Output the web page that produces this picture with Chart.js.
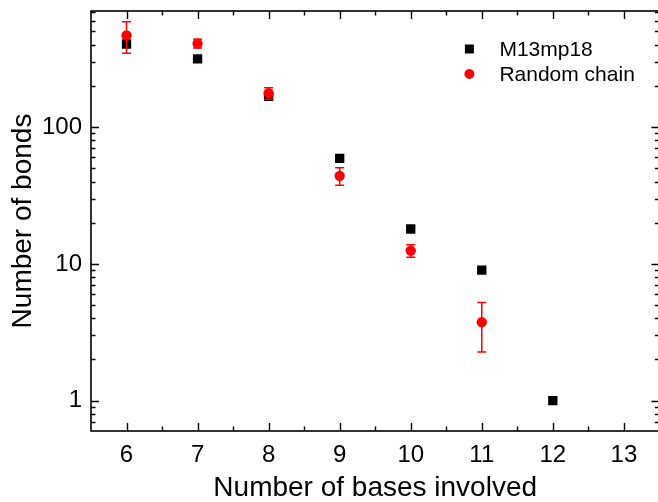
<!DOCTYPE html>
<html>
<head>
<meta charset="utf-8">
<script src="https://cdn.jsdelivr.net/npm/chart.js@4/dist/chart.umd.min.js"></script>
<style>
  html, body { margin: 0; padding: 0; background: #fff; overflow: hidden; }
  #wrap { width: 658px; height: 502px; overflow: hidden; }
</style>
</head>
<body>
<!-- the canvas runs a few pixels past the right edge so the plot frame's right side sits at the window edge -->
<div id="wrap"><canvas id="c" width="666" height="502"></canvas></div>
<script>
// Number of bases taking part in a bond
const bases = [6, 7, 8, 9, 10, 11, 12];
// Bond counts for the M13mp18 sequence
const m13Bonds = [405, 315, 168, 59, 18, 9, 1];
// Bond counts for a random chain (mean) and their error
const randomBases = [6, 7, 8, 9, 10, 11];
const randomBonds = [468, 408, 177, 44, 12.5, 3.75];
const randomErr = [122, 30, 17, 6.5, 1.3, 1.48];
// Axis ticks
const xTicks = [6, 7, 8, 9, 10, 11, 12, 13];
const yTicks = [1, 10, 100];

const FONT = '"Liberation Sans", Arial, sans-serif';

const m13Points = bases.map((x, i) => ({ x, y: m13Bonds[i] }));
const randomPoints = randomBases.map((x, i) => ({ x, y: randomBonds[i] }));

// Box frame with inward major/minor ticks on all four sides
const framePlugin = {
  id: 'frame',
  afterDraw(chart) {
    const { ctx, chartArea: a, scales: { x, y } } = chart;
    ctx.save();
    ctx.strokeStyle = '#000';
    ctx.lineWidth = 1.6;
    ctx.strokeRect(a.left, a.top, a.right - a.left, a.bottom - a.top);
    ctx.lineWidth = 1.4;
    ctx.beginPath();
    const xMaj = 8, xMin = 4.5;
    for (let v = x.min; v <= x.max + 1e-9; v += 0.5) {
      const px = Math.round(x.getPixelForValue(v)) + 0.5;
      if (px <= a.left + 1 || px >= a.right - 1) continue;
      const len = Number.isInteger(v) ? xMaj : xMin;
      ctx.moveTo(px, a.bottom); ctx.lineTo(px, a.bottom - len);
      ctx.moveTo(px, a.top); ctx.lineTo(px, a.top + len);
    }
    for (let d = -1; d <= 3; d++) {
      for (let m = 1; m <= 9; m++) {
        const v = m * Math.pow(10, d);
        if (v < y.min || v > y.max) continue;
        const py = Math.round(y.getPixelForValue(v)) + 0.5;
        if (py <= a.top + 1 || py >= a.bottom - 1) continue;
        const len = m === 1 ? 8 : 4.5;
        ctx.moveTo(a.left, py); ctx.lineTo(a.left + len, py);
        ctx.moveTo(a.right, py); ctx.lineTo(a.right - len, py);
      }
    }
    ctx.stroke();
    ctx.restore();
  }
};

// Vertical error bars with caps for the random-chain series
const errorBarPlugin = {
  id: 'errorBars',
  afterDatasetsDraw(chart) {
    const { ctx, scales: { x, y } } = chart;
    ctx.save();
    ctx.strokeStyle = '#ff0000';
    ctx.lineWidth = 1.5;
    ctx.beginPath();
    randomBases.forEach((b, i) => {
      const px = x.getPixelForValue(b);
      const top = y.getPixelForValue(randomBonds[i] + randomErr[i]);
      const bot = y.getPixelForValue(randomBonds[i] - randomErr[i]);
      const cap = 4.5;
      ctx.moveTo(px, top); ctx.lineTo(px, bot);
      ctx.moveTo(px - cap, top); ctx.lineTo(px + cap, top);
      ctx.moveTo(px - cap, bot); ctx.lineTo(px + cap, bot);
    });
    ctx.stroke();
    ctx.restore();
  }
};

// Legend inside the plot, upper right
const legendPlugin = {
  id: 'insideLegend',
  afterDraw(chart) {
    const { ctx, chartArea: a } = chart;
    const sx = a.right - 190, tx = a.right - 160;
    const rows = [
      { label: 'M13mp18', y: a.top + 38, shape: 'rect', color: '#000' },
      { label: 'Random chain', y: a.top + 63, shape: 'circle', color: '#ff0000' }
    ];
    ctx.save();
    rows.forEach(r => {
      ctx.fillStyle = r.color;
      if (r.shape === 'rect') {
        ctx.fillRect(sx - 4.5, r.y - 4.5, 9, 9);
      } else {
        ctx.beginPath(); ctx.arc(sx, r.y, 5, 0, Math.PI * 2); ctx.fill();
      }
      ctx.fillStyle = '#000';
      ctx.font = '21px ' + FONT;
      ctx.textBaseline = 'middle';
      ctx.fillText(r.label, tx, r.y + 1);
    });
    ctx.restore();
  }
};

new Chart(document.getElementById('c'), {
  type: 'scatter',
  data: {
    datasets: [
      {
        label: 'Random chain',
        data: randomPoints,
        order: 0,
        pointStyle: 'circle',
        pointRadius: 5.2,
        pointHoverRadius: 5.2,
        backgroundColor: '#ff0000',
        borderColor: '#ff0000',
        borderWidth: 0
      },
      {
        label: 'M13mp18',
        data: m13Points,
        order: 1,
        pointStyle: 'rect',
        pointRadius: 6.6,
        pointHoverRadius: 6.6,
        backgroundColor: '#000',
        borderColor: '#000',
        borderWidth: 0
      }
    ]
  },
  options: {
    responsive: false,
    devicePixelRatio: 1,
    animation: false,
    layout: { padding: { top: 11, right: 0, left: 0, bottom: 0 } },
    plugins: { legend: { display: false }, tooltip: { enabled: false } },
    scales: {
      x: {
        type: 'linear',
        min: 5.5,
        max: 13.5,
        afterBuildTicks: s => { s.ticks = xTicks.map(v => ({ value: v })); },
        afterFit: s => { s.height = 71; s.paddingLeft = 0; s.paddingRight = 0; },
        grid: { display: false, drawTicks: false },
        border: { display: false },
        ticks: { color: '#000', font: { family: FONT, size: 24 }, padding: 10, autoSkip: false, maxRotation: 0 },
        title: { display: true, text: 'Number of bases involved', color: '#000', font: { family: FONT, size: 28, lineHeight: 1.0 }, padding: { top: 0, bottom: 0 } }
      },
      y: {
        type: 'logarithmic',
        min: 0.6,
        max: 706,
        afterBuildTicks: s => { s.ticks = yTicks.map(v => ({ value: v })); },
        afterFit: s => { s.width = 91; s.paddingTop = 0; s.paddingBottom = 0; },
        grid: { display: false, drawTicks: false },
        border: { display: false },
        ticks: { color: '#000', font: { family: FONT, size: 24 }, padding: 9, autoSkip: false, callback: v => String(v) },
        title: { display: true, text: 'Number of bonds', color: '#000', font: { family: FONT, size: 28 }, padding: { top: 6, bottom: 0 } }
      }
    }
  },
  plugins: [framePlugin, errorBarPlugin, legendPlugin]
});
</script>
</body>
</html>
